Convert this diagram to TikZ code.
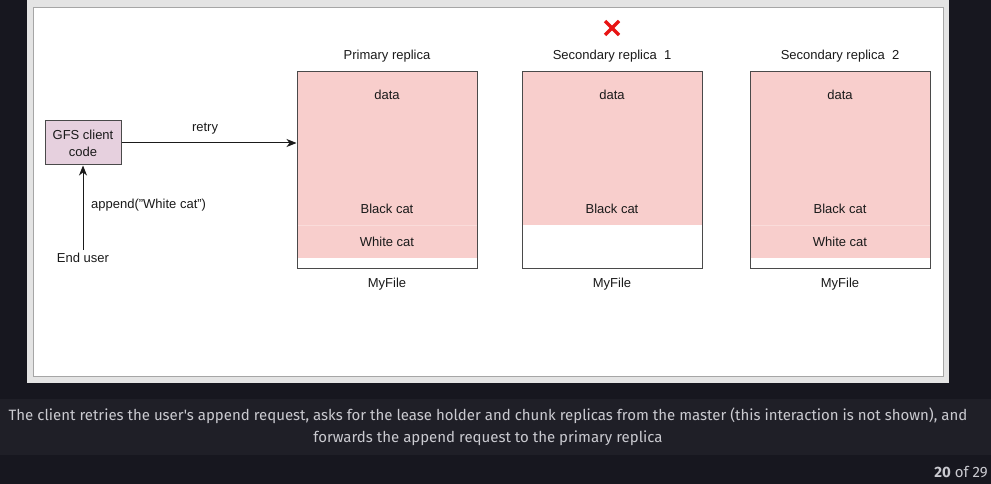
\documentclass[tikz,border=0pt]{standalone}
\usepackage{fontspec}
\setmainfont{Liberation Sans}
\newfontfamily\capfont{Fira Sans}
\usetikzlibrary{calc,arrows.meta}
\definecolor{bgdark}{HTML}{17171F}
\definecolor{bgband}{HTML}{1F1F27}
\definecolor{framegray}{HTML}{E4E4E4}
\definecolor{pinkc}{HTML}{F8CECC}
\definecolor{pinkline}{HTML}{FADCDA}
\definecolor{lilac}{HTML}{E6D0DE}
\definecolor{edgec}{HTML}{4A4A4A}
\definecolor{txt}{HTML}{1A1A1A}
\definecolor{captxt}{HTML}{CACAD0}
\definecolor{redx}{HTML}{E81414}
\tikzset{
  lbl/.style={font=\fontsize{13}{15}\selectfont, text=txt, inner sep=0pt},
  replica/.style={draw=edgec, line width=1pt, minimum width=180pt, minimum height=196pt, inner sep=0pt},
  client/.style={draw=edgec, line width=1pt, fill=lilac, minimum width=76pt, minimum height=44pt, inner sep=0pt, align=center, font=\fontsize{13}{17}\selectfont, text=txt},
  conn/.style={line width=1pt, draw=txt, -{Stealth[length=10pt,width=8pt,inset=3pt]}},
  captext/.style={font=\capfont\fontsize{15}{17}\selectfont, text=captxt, inner sep=0pt},
}
\begin{document}
\begin{tikzpicture}[x=1pt,y=-1pt]
\useasboundingbox (0,0) rectangle (991,484);
\fill[bgdark] (0,0) rectangle (991,484);
\fill[bgband] (0,399) rectangle (991,455);
\fill[framegray] (27,0) rectangle (949,383);
\filldraw[fill=white, draw=gray!70, line width=0.8pt] (33.5,7) rectangle (943,376.5);

% replicas
\node[replica] (p) at (387,170) {};
\node[replica] (s1) at (612,170) {};
\node[replica] (s2) at (840,170) {};
\fill[pinkc] (p.north west) rectangle ($(p.south east)+(0,-11)$);
\fill[pinkc] (s1.north west) rectangle ($(s1.south east)+(0,-44)$);
\fill[pinkc] (s2.north west) rectangle ($(s2.south east)+(0,-11)$);
\draw[pinkline, line width=0.8pt] ($(p.south west)+(0.5,-43)$) -- ($(p.south east)+(-0.5,-43)$);
\draw[pinkline, line width=0.8pt] ($(s2.south west)+(0.5,-43)$) -- ($(s2.south east)+(-0.5,-43)$);
\node[replica] at (p) {};
\node[replica] at (s1) {};
\node[replica] at (s2) {};

\foreach \r/\x in {p/387, s1/612, s2/840} {
  \node[lbl] (\r-data) at (\x,94.5) {data};
  \node[lbl] (\r-black) at (\x,208.5) {Black cat};
  \node[lbl] (\r-file) at (\x,284.5) {MyFile};
}
\node[lbl] (p-white) at (387,241.5) {White cat};
\node[lbl] (s2-white) at (840,241.5) {White cat};

\node[lbl] (pt) at (387,56.5) {Primary replica};
\node[lbl] (s1t) at (612,56.5) {Secondary replica\ \ 1};
\node[lbl] (s2t) at (840,56.5) {Secondary replica\ \ 2};

% red cross
\coordinate (xc) at (612,28);
\draw[redx, line width=3.2pt] ($(xc)+(-7,-7)$) -- ($(xc)+(7,7)$);
\draw[redx, line width=3.2pt] ($(xc)+(-7,7)$) -- ($(xc)+(7,-7)$);

% client
\node[client] (c) at (83,143) {GFS client\\code};
\node[lbl] (eu) at (83,257.5) {End user};
\coordinate (eutop) at ($(eu.north)+(0,-3)$);
\draw[conn] (eutop) -- (c.south);
\node[lbl, anchor=west] (app) at (91,205.5) {append("White cat")};
\draw[conn] (c.east) -- (c.east -| p.west);
\node[lbl] (retry) at (205,128.5) {retry};

% caption
\node[captext] (c1) at (488,416) {The client retries the user's append request, asks for the lease holder and chunk replicas from the master (this interaction is not shown), and};
\node[captext] (c2) at (488,438) {forwards the append request to the primary replica};
\node[captext, anchor=east] (pg) at (988,472) {\textbf{20} of 29};
\end{tikzpicture}
\end{document}
